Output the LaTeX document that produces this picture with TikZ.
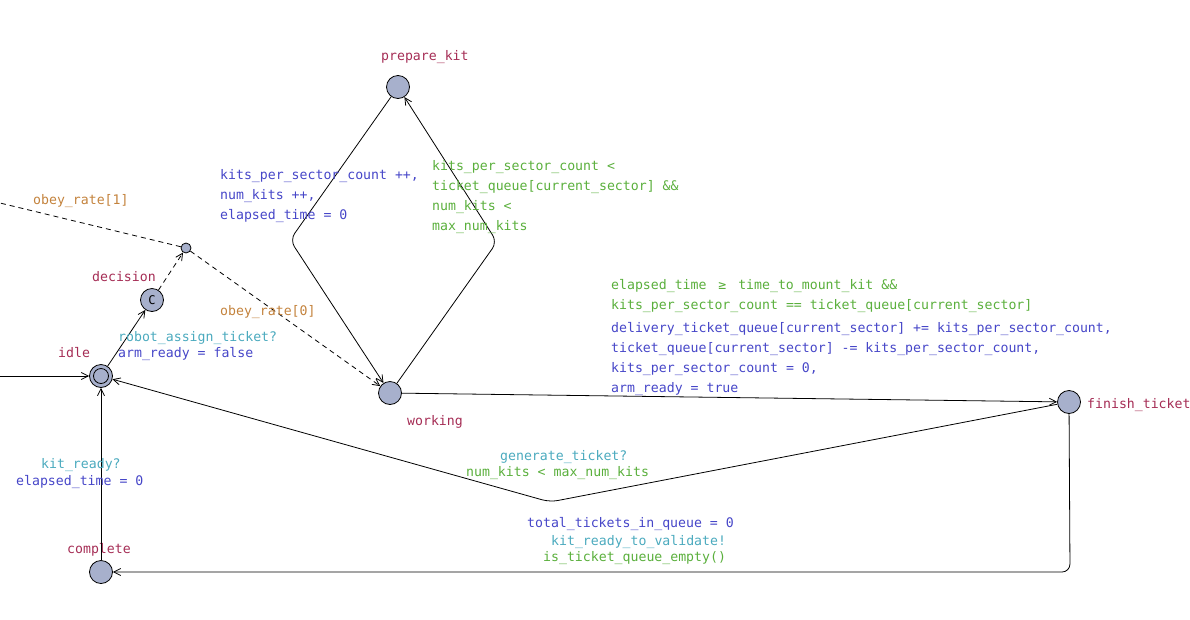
\documentclass[tikz,border=0pt]{standalone}
\usepackage{fontspec}
\usepackage{xcolor}
\usepackage{tikz}
\usetikzlibrary{arrows.meta}
\newfontfamily\uppfont{DejaVu Sans Mono}
\newcommand{\lblfont}{\uppfont\fontsize{13.2pt}{16pt}\selectfont}
\definecolor{locfill}{RGB}{167,176,204}
\definecolor{namecol}{RGB}{165,45,85}
\definecolor{synccol}{RGB}{75,170,190}
\definecolor{updcol}{RGB}{70,70,200}
\definecolor{guardcol}{RGB}{90,175,60}
\definecolor{probcol}{RGB}{195,130,60}

\begin{document}
\begin{tikzpicture}[x=1pt,y=-1pt,
    loc/.style={circle,draw,fill=locfill,minimum size=23pt,inner sep=0pt,line width=0.8pt},
    branchpt/.style={circle,draw,fill=locfill,minimum size=10pt,inner sep=0pt,line width=0.8pt},
    edge/.style={line width=0.8pt,-{Straight Barb[length=7pt,width=7pt]}},
    probedge/.style={edge,dash pattern=on 5pt off 4pt},
    txt/.style={anchor=west,inner sep=0pt,text height=9pt,text depth=3pt,yshift=-2pt,font=\lblfont},
    nametxt/.style={txt,namecol},
    synctxt/.style={txt,synccol},
    updtxt/.style={txt,updcol},
    guardtxt/.style={txt,guardcol},
    probtxt/.style={txt,probcol}
]
\useasboundingbox (0,0) rectangle (1190,619);

\node[loc] (prepare_kit) at (398,87) {};
\node[loc,font=\uppfont\fontsize{12pt}{12pt}\selectfont] (decision) at (152,300) {C};
\node[branchpt] (branch) at (186,248) {};
\node[loc] (idle) at (101,376) {};
\draw[line width=0.8pt] (idle.center) circle (7.5pt);
\node[loc] (working) at (390,393) {};
\node[loc] (finish_ticket) at (1069,402) {};
\node[loc] (complete) at (101,572) {};

\coordinate (entry) at (0,376);
\coordinate (offleft) at (0,203);
\coordinate (leftbend) at (290,240);
\coordinate (rightbend) at (497,242);
\coordinate (lowbend) at (550,502);
\coordinate (cornerbend) at (1070,572);

\node[nametxt] (lprepare) at (381,55) {prepare\_kit};
\node[nametxt] (ldecision) at (92,276) {decision};
\node[nametxt] (lidle) at (58,352) {idle};
\node[nametxt] (lworking) at (407,420) {working};
\node[nametxt] (lfinish) at (1087,403) {finish\_ticket};
\node[nametxt] (lcomplete) at (67,548) {complete};

\draw[edge] (entry) -- (idle);
\draw[edge] (complete) -- (idle);
\draw[edge] (idle) -- (decision);
\draw[probedge] (decision) -- (branch);
\draw[probedge] (branch) -- (working);
\draw[line width=0.8pt,dash pattern=on 5pt off 4pt] (branch) -- (offleft);
\draw[edge,rounded corners=8pt] (prepare_kit) -- (leftbend) -- (working);
\draw[edge,rounded corners=8pt] (working) -- (rightbend) -- (prepare_kit);
\draw[edge] (working) -- (finish_ticket);
\draw[edge,rounded corners=8pt] (finish_ticket) -- (cornerbend) -- (complete);
\draw[edge,rounded corners=8pt] (finish_ticket) -- (lowbend) -- (idle);

\node[probtxt] (p1) at (33,199) {obey\_rate[1]};
\node[probtxt] (p0) at (220,310) {obey\_rate[0]};

\node[synctxt] (s1) at (118,336) {robot\_assign\_ticket?};
\node[updtxt] (u1) at (118,352) {arm\_ready = false};

\node[updtxt] (u2a) at (220,174) {kits\_per\_sector\_count ++,};
\node[updtxt] (u2b) at (220,194) {num\_kits ++,};
\node[updtxt] (u2c) at (220,214) {elapsed\_time = 0};

\node[guardtxt] (g1a) at (432,165) {kits\_per\_sector\_count <};
\node[guardtxt] (g1b) at (432,185) {ticket\_queue[current\_sector] \&\&};
\node[guardtxt] (g1c) at (432,205) {num\_kits <};
\node[guardtxt] (g1d) at (432,225) {max\_num\_kits};

\node[guardtxt] (g2a) at (611,284) {elapsed\_time \makebox[1.2em]{≥} time\_to\_mount\_kit \&\&};
\node[guardtxt] (g2b) at (611,304) {kits\_per\_sector\_count == ticket\_queue[current\_sector]};
\node[updtxt] (u3a) at (611,327) {delivery\_ticket\_queue[current\_sector] += kits\_per\_sector\_count,};
\node[updtxt] (u3b) at (611,347) {ticket\_queue[current\_sector] -= kits\_per\_sector\_count,};
\node[updtxt] (u3c) at (611,367) {kits\_per\_sector\_count = 0,};
\node[updtxt] (u3d) at (611,387) {arm\_ready = true};

\node[synctxt] (s2) at (500,455) {generate\_ticket?};
\node[guardtxt] (g3) at (466,471) {num\_kits < max\_num\_kits};

\node[updtxt] (u4) at (527,522) {total\_tickets\_in\_queue = 0};
\node[synctxt] (s3) at (551,540) {kit\_ready\_to\_validate!};
\node[guardtxt] (g4) at (543,556) {is\_ticket\_queue\_empty()};

\node[synctxt] (s4) at (41,463) {kit\_ready?};
\node[updtxt] (u5) at (16,480) {elapsed\_time = 0};

\end{tikzpicture}
\end{document}
